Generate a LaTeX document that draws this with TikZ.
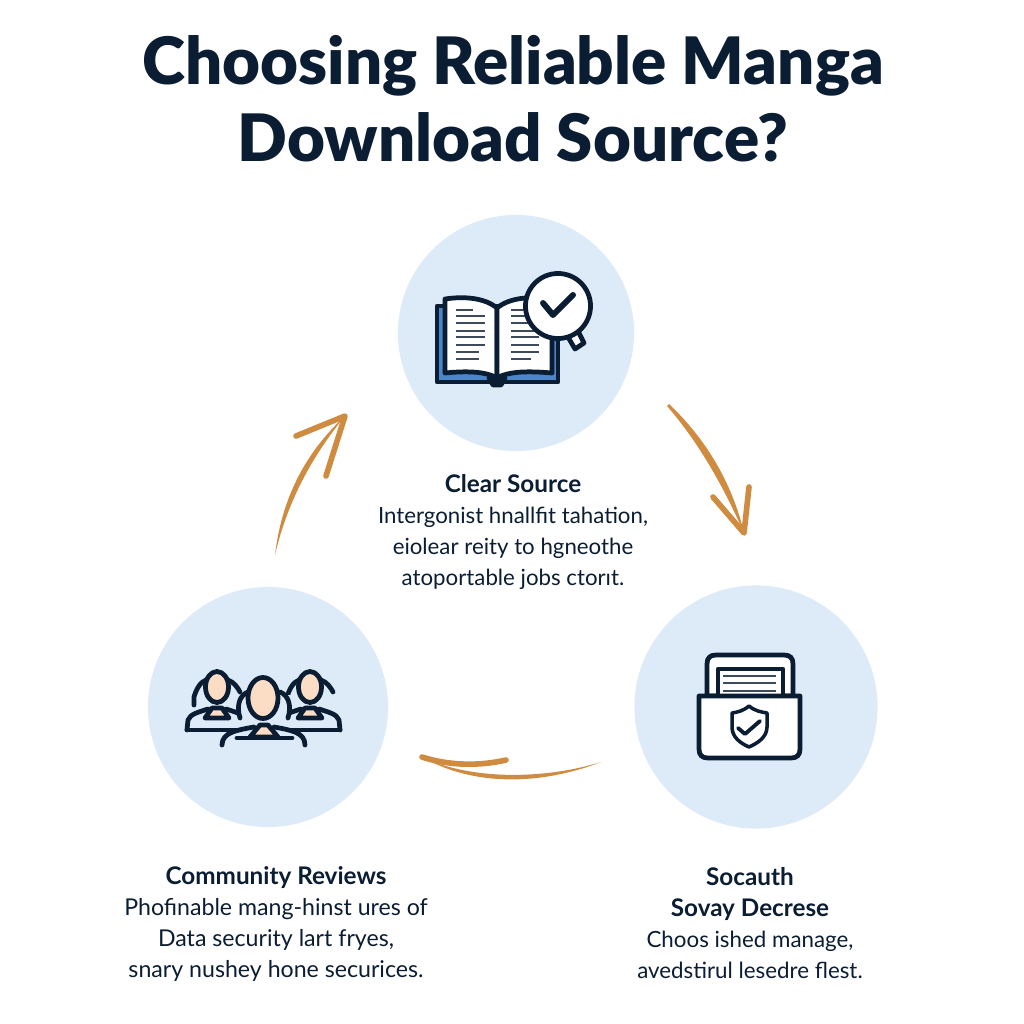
\documentclass[tikz,border=0pt]{standalone}
\usepackage{fontspec}
\setmainfont{Lato}
\newfontfamily\heavyfont{Lato Black}
\usetikzlibrary{positioning}

\definecolor{navy}{HTML}{0B1D33}
\definecolor{disc}{HTML}{DDEAF8}
\definecolor{ochre}{HTML}{CF8C40}
\definecolor{peach}{HTML}{FBDCC4}
\definecolor{cover}{HTML}{4A86C8}

\newcommand{\blockhead}[1]{{\fontsize{6.9}{8.82}\selectfont\bfseries #1}}

\tikzset{
    disc/.style={circle, fill=disc, inner sep=0pt},
    headline/.style={text=navy, align=center, font=\fontsize{18.6}{21.9}\heavyfont},
    blurb/.style={text=navy, align=center, font=\fontsize{#1}{8.82}\selectfont},
    icon/.style={draw=navy, line width=1.35pt, line join=round, line cap=round},
    rule/.style={draw=navy!80, line width=0.6pt},
    sweep/.style={fill=ochre},
    barb/.style={draw=ochre, line width=1.6pt, line cap=round, line join=round}
}

\begin{document}
\begin{tikzpicture}[x=0.01cm, y=-0.01cm]
    \useasboundingbox (0,0) rectangle (1024,1024);

    % Title
    \node[headline] (title) at (513,99) {Choosing Reliable Manga\\Download Source?};

    % Three discs
    \node[disc, minimum size=2.36cm] (source) at (516,333) {};
    \node[disc, minimum size=2.40cm] (community) at (268,707) {};
    \node[disc, minimum size=2.43cm] (safety) at (756,707) {};

    % Text below each disc
    \node[blurb=6.33] (sourcetext) at (513,532) {\blockhead{Clear Source}\\Intergonist hnallfit tahation,\\eiolear reity to hgneothe\\atoportable jobs ctorıt.};
    \node[blurb=6.58] (communitytext) at (276,924) {\blockhead{Community Reviews}\\Phofinable mang-hinst ures of\\Data security lart fryes,\\snary nushey hone securices.};
    \node[blurb=6.35] (safetytext) at (750,923) {\blockhead{Socauth}\\\blockhead{Sovay Decrese}\\Choos ished manage,\\avedstirul lesedre flest.};

    % Hand drawn arrows
    \coordinate (tailA) at (275,555);
    \coordinate (tipA) at (345,416);
    \coordinate (tailB) at (667,406);
    \coordinate (tipB) at (744,533);
    \coordinate (tailC) at (601,762);
    \coordinate (tipC) at (422,757);

    \fill[sweep] (tailA) .. controls (282,495) and (308,450) .. (tipA)
        .. controls (314,454) and (288,499) .. (tailA) -- cycle;
    \draw[barb] (296,436) -- (tipA) -- (326,476);
    \fill[sweep] (tailB) -- (669,404) .. controls (705,438) and (732,482) .. (tipB)
        .. controls (724,488) and (700,444) .. (tailB) -- cycle;
    \draw[barb] (713,497) -- (tipB) -- (749,487);
    \fill[sweep] (tailC) .. controls (550,782) and (480,790) .. (tipC)
        .. controls (475,782) and (550,778) .. (tailC) -- cycle;
    \draw[barb] (tipC) .. controls (450,766) and (480,766) .. (506,760);

    % Open book with check mark lens
    \draw[icon, fill=cover] (437,306) rectangle (558,382);
    \draw[icon, fill=navy] (489,378) -- (505,378) -- (501,385) -- (493,385) -- cycle;
    \draw[icon, fill=white] (445,299) .. controls (465,296) and (485,298) .. (497,308)
        -- (497,378) .. controls (485,371) and (465,371) .. (445,373) -- cycle;
    \draw[icon, fill=white] (549,299) .. controls (529,296) and (509,298) .. (497,308)
        -- (497,378) .. controls (509,371) and (529,371) .. (552,373) -- (552,299) -- cycle;
    \foreach \y/\e in {310/473, 316/485, 323/485, 331/485, 337/485, 345/485, 352/479, 359/479} {
        \draw[rule] (456,\y) -- (\e,\y);
    }
    \foreach \y/\e in {310/525, 316/539, 323/539, 331/539, 337/539, 345/539, 352/539, 359/531} {
        \draw[rule] (511,\y) -- (\e,\y);
    }
    \draw[icon, fill=white] (568,337) -- (578,331) -- (584,343) -- (575,349) -- cycle;
    \draw[icon, fill=white] (558,306) circle (0.325cm);
    \draw[icon, line width=1.7pt] (543,303) -- (553,315) -- (573,295);

    % Group of three people
    \foreach \cx in {217,310} {
        \draw[icon] (\cx-30,730) -- (\cx-29,720) .. controls (\cx-27,714) and (\cx-18,712) .. (\cx-9,709);
        \draw[icon] (\cx+9,709) .. controls (\cx+18,712) and (\cx+27,714) .. (\cx+29,720) -- (\cx+30,730);
        \draw[icon] (\cx-30,730) -- (\cx+30,730);
        \draw[icon, fill=peach] (\cx-12,718) -- (\cx-5,708) -- (\cx+5,708) -- (\cx+12,718) -- cycle;
        \draw[icon] (\cx-23,705) -- (\cx-23,697) .. controls (\cx-21,690) and (\cx-17,682) .. (\cx-11,680);
        \draw[icon] (\cx+11,680) .. controls (\cx+17,682) and (\cx+21,688) .. (\cx+23,692);
        \draw[icon, fill=peach] (\cx,687) ellipse (0.115cm and 0.155cm);
    }
    \fill[disc] (238,695) rectangle (290,745);
    \draw[icon] (222,745) .. controls (222,732) and (238,730) .. (254,727);
    \draw[icon] (274,727) .. controls (290,730) and (305,732) .. (305,745);
    \draw[icon] (237,738) -- (292,738);
    \draw[icon, fill=peach] (250,737) -- (260,725) -- (268,725) -- (278,737) -- cycle;
    \draw[icon] (240,718) .. controls (236,705) and (240,695) .. (248,692);
    \draw[icon] (280,692) .. controls (288,695) and (292,705) .. (288,718);
    \draw[icon, fill=peach] (263,698) ellipse (0.15cm and 0.205cm);

    % Secure box with papers
    \draw[icon, fill=white] (707,696) -- (707,664) .. controls (707,658) and (710,655) .. (716,655)
        -- (784,655) .. controls (790,655) and (793,658) .. (793,664) -- (793,696) -- cycle;
    \draw[icon, fill=white] (718,696) -- (718,669) -- (783,669) -- (783,696);
    \draw[rule] (723,676) -- (776,676);
    \draw[rule] (723,683) -- (776,683);
    \draw[rule] (723,691) -- (776,691);
    \draw[icon, fill=white] (699,696) -- (800,696) -- (800,749) .. controls (800,755) and (797,758) .. (791,758)
        -- (708,758) .. controls (702,758) and (699,755) .. (699,749) -- cycle;
    \draw[icon, line width=1pt, fill=white] (749,706) .. controls (755,711) and (761,712) .. (767,713)
        -- (767,727) .. controls (767,737) and (758,743) .. (749,747)
        .. controls (740,743) and (732,737) .. (732,727) -- (732,713)
        .. controls (738,712) and (743,711) .. (749,706) -- cycle;
    \draw[icon, line width=1.1pt] (738,728) -- (745,734) -- (760,721);
\end{tikzpicture}
\end{document}
